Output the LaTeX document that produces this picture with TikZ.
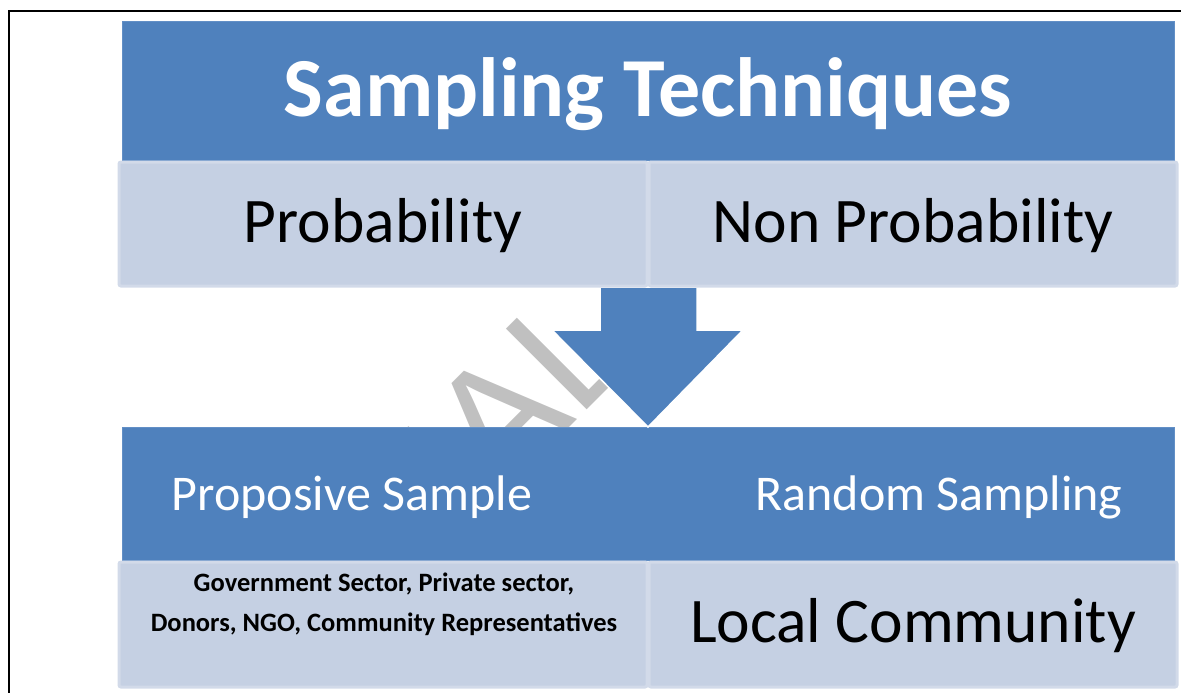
\documentclass[tikz,border=0pt]{standalone}
\usepackage{fontspec}
\setmainfont{Carlito}
\newfontfamily\markfont{Liberation Sans}
\usetikzlibrary{calc}

\definecolor{accentblue}{RGB}{79,129,189}
\definecolor{bandedge}{RGB}{98,143,198}
\definecolor{paleblue}{RGB}{197,208,227}
\definecolor{paleedge}{RGB}{210,218,233}
\definecolor{markgrey}{RGB}{192,192,192}

\tikzset{
  band/.style={fill=accentblue, draw=bandedge, line width=1pt, inner sep=0pt,
    minimum width=1052pt},
  cell/.style={fill=paleblue, draw=paleedge, line width=3pt, rounded corners=2pt,
    inner sep=0pt, minimum width=528pt},
  titletext/.style={text=white, inner sep=0pt, font=\fontsize{84}{90}\selectfont\bfseries},
  celltext/.style={text=black, inner sep=0pt, font=\fontsize{63.5}{70}\selectfont},
  subtext/.style={text=white, inner sep=0pt, font=\fontsize{50}{56}\selectfont},
  smalltext/.style={text=black, inner sep=0pt, font=\fontsize{26.5}{30}\selectfont\bfseries},
  watermark/.style={text=markgrey, inner sep=0pt, rotate=45,
    font=\markfont\fontsize{166}{166}\selectfont},
}

\begin{document}
\begin{tikzpicture}[x=1pt, y=-1pt]
  \useasboundingbox (0,0) rectangle (1181,693);

  % Watermark (behind everything)
  \node[watermark, anchor=base west] (mark) at (310,687) {FINAL};

  % Boxes
  \node[band, minimum height=138pt] (head) at (648,91) {};
  \node[band, minimum height=133pt] (lower) at (648,493.5) {};

  % Arrow
  \fill[accentblue, draw=white, line width=1.5pt]
    (600,287) -- (697,287) -- (697,330) -- (743,330) -- (648,427)
    -- (552,330) -- (600,330) -- cycle;

  \node[cell, minimum height=124pt] (probcell) at (383,224) {};
  \node[cell, minimum height=124pt] (nonprobcell) at (913,224) {};
  \node[cell, minimum height=125pt] (groupcell) at (383,624.5) {};
  \node[cell, minimum height=125pt] (localcell) at (913,624.5) {};

  % Labels
  \node[titletext, anchor=base] (title) at (648,117) {Sampling Techniques};
  \node[celltext, anchor=base] (prob) at (383,242) {Probability};
  \node[celltext, anchor=base] (nonprob) at (913,242) {Non Probability};
  \node[subtext, anchor=base] (purposive) at (352,510) {Proposive Sample};
  \node[subtext, anchor=base] (random) at (939,510) {Random Sampling};
  \node[smalltext, anchor=base] (groups) at (384,591) {Government Sector, Private sector,};
  \node[smalltext, anchor=base] (groupsb) at (384,631) {Donors, NGO, Community Representatives};
  \node[celltext, anchor=base] (local) at (913,642) {Local Community};

  % Page frame
  \draw[line width=2.5pt] (9,693) -- (9,11) -- (1181,11);
\end{tikzpicture}
\end{document}
